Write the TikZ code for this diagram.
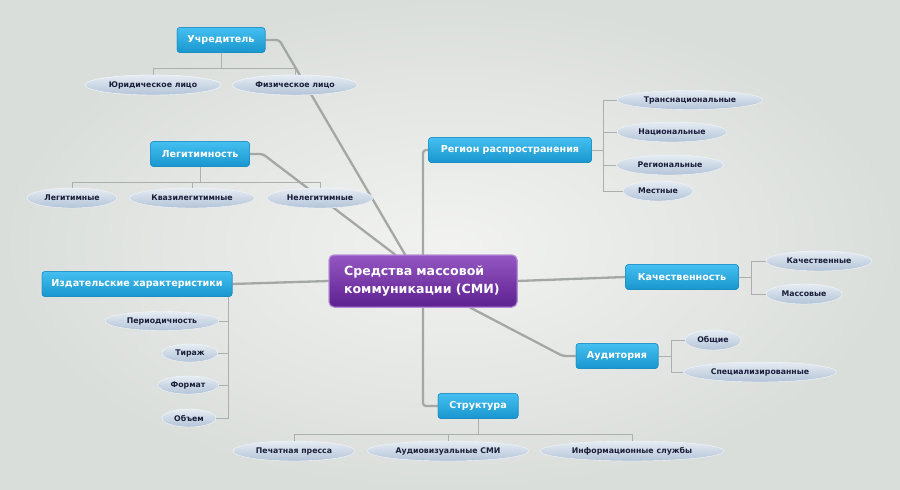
\documentclass[tikz,border=0pt]{standalone}
\usepackage{fontspec}
\setmainfont{DejaVu Sans}
\usetikzlibrary{shapes.geometric}
\definecolor{bgin}{HTML}{F2F3F1}
\definecolor{bgout}{HTML}{DADEDB}
\definecolor{btop}{HTML}{45BFF0}
\definecolor{bbot}{HTML}{1896CE}
\definecolor{bdraw}{HTML}{1A8CC2}
\definecolor{etop}{HTML}{E6ECF3}
\definecolor{ebot}{HTML}{B3C4D8}
\definecolor{etext}{HTML}{1B1F3A}
\definecolor{ptop}{HTML}{9456C2}
\definecolor{pbot}{HTML}{5E2190}
\definecolor{pdraw}{HTML}{B48AD6}
\definecolor{lmain}{HTML}{A3A7A6}
\definecolor{lthin}{HTML}{ABAFAE}
\begin{document}
\begin{tikzpicture}[x=1pt,y=-1pt,
  bluebox/.style={rectangle,rounded corners=3pt,top color=btop,bottom color=bbot,draw=bdraw,line width=0.5pt,
    text=white,font=\fontsize{9.6}{11}\selectfont\bfseries,inner sep=0pt,minimum height=25pt},
  leaf/.style={ellipse,top color=etop,bottom color=ebot,draw=white!85!ebot,line width=0.4pt,
    text=etext,font=\fontsize{7.8}{9}\selectfont\bfseries,inner sep=0pt,minimum height=20pt},
  centre/.style={rectangle,rounded corners=5pt,top color=ptop,bottom color=pbot,draw=pdraw,line width=1pt,
    text=white,font=\fontsize{12.6}{18}\selectfont\bfseries,align=left,text width=158pt,inner xsep=15pt,
    minimum width=188pt,minimum height=52pt},
  mainline/.style={draw=lmain,line width=2.3pt,line cap=round,line join=round,rounded corners=3pt},
  thinline/.style={draw=lthin,line width=0.8pt}
]
\useasboundingbox (0,0) rectangle (900,490);
\shade[inner color=bgin,outer color=bgout] (0,0) rectangle (900,490);

% central node
\node[centre] (c) at (423,281) {Средства массовой\\коммуникации (СМИ)};

% blue nodes
\node[bluebox,minimum width=88pt] (u) at (221,40) {Учредитель};
\node[bluebox,minimum width=99pt] (l) at (200,154) {Легитимность};
\node[bluebox,minimum width=190pt] (iz) at (137,284) {Издательские характеристики};
\node[bluebox,minimum width=163pt] (r) at (510,150) {Регион распространения};
\node[bluebox,minimum width=113pt] (k) at (682,277) {Качественность};
\node[bluebox,minimum width=82pt] (a) at (617,356) {Аудитория};
\node[bluebox,minimum width=80pt] (s) at (478,406) {Структура};

% leaves
\node[leaf,minimum width=136pt] (u1) at (153,85) {Юридическое лицо};
\node[leaf,minimum width=125pt] (u2) at (295,85) {Физическое лицо};
\node[leaf,minimum width=90pt] (l1) at (72,198) {Легитимные};
\node[leaf,minimum width=125pt] (l2) at (192,198) {Квазилегитимные};
\node[leaf,minimum width=106pt] (l3) at (320,198) {Нелегитимные};
\node[leaf,minimum width=146pt,minimum height=19pt] (r1) at (690,100) {Транснациональные};
\node[leaf,minimum width=110pt] (r2) at (672,132) {Национальные};
\node[leaf,minimum width=107pt] (r3) at (670,165) {Региональные};
\node[leaf,minimum width=70pt] (r4) at (658,191) {Местные};
\node[leaf,minimum width=106pt] (k1) at (819,261) {Качественные};
\node[leaf,minimum width=76pt] (k2) at (804,294) {Массовые};
\node[leaf,minimum width=56pt] (a1) at (713,340) {Общие};
\node[leaf,minimum width=153pt] (a2) at (760,372) {Специализированные};
\node[leaf,minimum width=114pt,minimum height=19pt] (i1) at (162,321) {Периодичность};
\node[leaf,minimum width=56pt,minimum height=18pt] (i2) at (190,353) {Тираж};
\node[leaf,minimum width=61pt,minimum height=18pt] (i3) at (188,385) {Формат};
\node[leaf,minimum width=54pt,minimum height=18pt] (i4) at (189,418) {Объем};
\node[leaf,minimum width=122pt] (s1) at (294,451) {Печатная пресса};
\node[leaf,minimum width=162pt] (s2) at (448,451) {Аудиовизуальные СМИ};
\node[leaf,minimum width=184pt] (s3) at (632,451) {Информационные службы};

% bus coordinates
\coordinate (ub) at ([yshift=-16pt]u.south);
\coordinate (lb) at ([yshift=-16pt]l.south);
\coordinate (sb) at ([yshift=-16pt]s.south);
\coordinate (rb) at ([xshift=12pt]r.east);
\coordinate (kb) at ([xshift=13pt]k.east);
\coordinate (ab) at ([xshift=13pt]a.east);
\coordinate (ib) at ([xshift=-4pt]iz.south east);

% thin child connectors
\draw[thinline] (u.south) -- (ub);
\draw[thinline] (u1.north) |- (ub);
\draw[thinline] (u2.north) |- (ub);
\draw[thinline] (l.south) -- (lb);
\draw[thinline] (l1.north) |- (lb);
\draw[thinline] (l2.north) |- (lb);
\draw[thinline] (l3.north) |- (lb);
\draw[thinline] (s.south) -- (sb);
\draw[thinline] (s1.north) |- (sb);
\draw[thinline] (s2.north) |- (sb);
\draw[thinline] (s3.north) |- (sb);
\draw[thinline] (r.east) -- (rb);
\draw[thinline] (r1.west) -| (rb);
\draw[thinline] (r2.west) -| (rb);
\draw[thinline] (r3.west) -| (rb);
\draw[thinline] (r4.west) -| (rb);
\draw[thinline] (k.east) -- (kb);
\draw[thinline] (k1.west) -| (kb);
\draw[thinline] (k2.west) -| (kb);
\draw[thinline] (a.east) -- (ab);
\draw[thinline] (a1.west) -| (ab);
\draw[thinline] (a2.west) -| (ab);
\draw[thinline] (i1.east) -| (ib);
\draw[thinline] (i2.east) -| (ib);
\draw[thinline] (i3.east) -| (ib);
\draw[thinline] (i4.east) -| (ib);

% main connectors
\draw[mainline] (u.east) -- ++(14,0) -- ([xshift=-18pt]c.north);
\draw[mainline] (l.east) -- ++(13,0) -- ([xshift=-28pt]c.north);
\draw[mainline] (c.north) |- (r.west);
\draw[mainline] (c.west) -- (iz.east);
\draw[mainline] (c.east) -- (k.west);
\draw[mainline] ([xshift=47pt]c.south) -- ([xshift=-13pt]a.west) -- (a.west);
\draw[mainline] (c.south) |- (s.west);

% redraw nodes on top of lines
\node[centre] at (c) {Средства массовой\\коммуникации (СМИ)};
\node[bluebox,minimum width=88pt] at (u) {Учредитель};
\node[bluebox,minimum width=99pt] at (l) {Легитимность};
\node[bluebox,minimum width=190pt] at (iz) {Издательские характеристики};
\node[bluebox,minimum width=163pt] at (r) {Регион распространения};
\node[bluebox,minimum width=113pt] at (k) {Качественность};
\node[bluebox,minimum width=82pt] at (a) {Аудитория};
\node[bluebox,minimum width=80pt] at (s) {Структура};
\node[leaf,minimum width=136pt] at (u1) {Юридическое лицо};
\node[leaf,minimum width=125pt] at (u2) {Физическое лицо};
\node[leaf,minimum width=106pt] at (l3) {Нелегитимные};
\end{tikzpicture}
\end{document}
